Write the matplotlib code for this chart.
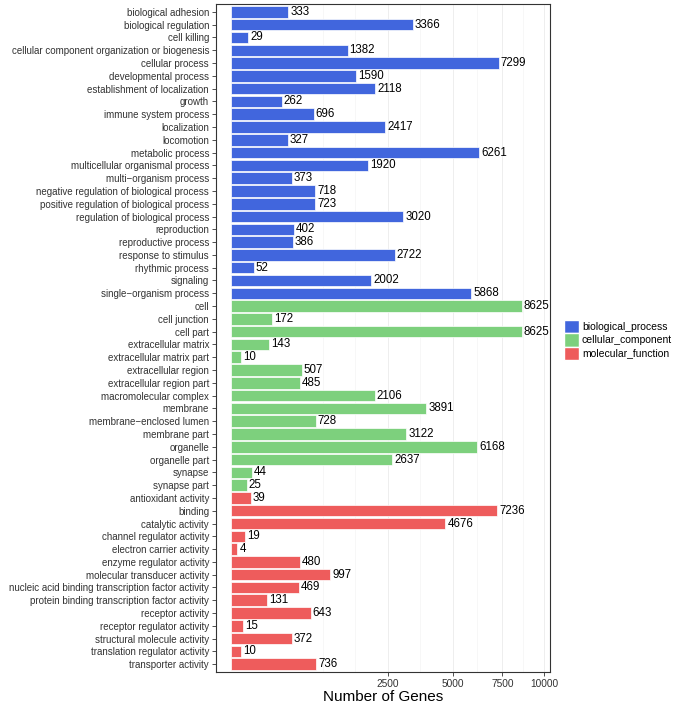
import numpy as np
import matplotlib
matplotlib.use('Agg')
import matplotlib.pyplot as plt
from matplotlib.patches import Patch

plt.rcParams['font.family'] = ['Liberation Sans', 'DejaVu Sans']

# GO terms per ontology, top to bottom
bp_terms = ['biological adhesion', 'biological regulation', 'cell killing',
            'cellular component organization or biogenesis', 'cellular process',
            'developmental process', 'establishment of localization', 'growth',
            'immune system process', 'localization', 'locomotion', 'metabolic process',
            'multicellular organismal process', 'multi\u2212organism process',
            'negative regulation of biological process',
            'positive regulation of biological process',
            'regulation of biological process', 'reproduction', 'reproductive process',
            'response to stimulus', 'rhythmic process', 'signaling',
            'single\u2212organism process']
bp_counts = [333, 3366, 29, 1382, 7299, 1590, 2118, 262, 696, 2417, 327, 6261,
             1920, 373, 718, 723, 3020, 402, 386, 2722, 52, 2002, 5868]

cc_terms = ['cell', 'cell junction', 'cell part', 'extracellular matrix',
            'extracellular matrix part', 'extracellular region',
            'extracellular region part', 'macromolecular complex', 'membrane',
            'membrane\u2212enclosed lumen', 'membrane part', 'organelle',
            'organelle part', 'synapse', 'synapse part']
cc_counts = [8625, 172, 8625, 143, 10, 507, 485, 2106, 3891, 728, 3122, 6168,
             2637, 44, 25]

mf_terms = ['antioxidant activity', 'binding', 'catalytic activity',
            'channel regulator activity', 'electron carrier activity',
            'enzyme regulator activity', 'molecular transducer activity',
            'nucleic acid binding transcription factor activity',
            'protein binding transcription factor activity', 'receptor activity',
            'receptor regulator activity', 'structural molecule activity',
            'translation regulator activity', 'transporter activity']
mf_counts = [39, 7236, 4676, 19, 4, 480, 997, 469, 131, 643, 15, 372, 10, 736]

groups = ['biological_process', 'cellular_component', 'molecular_function']
colors = ['#4166dd', '#7dd07d', '#ee5c5c']
x_ticks = [2500, 5000, 7500, 10000]

terms = bp_terms + cc_terms + mf_terms
counts = bp_counts + cc_counts + mf_counts
cols = ([colors[0]] * len(bp_terms) + [colors[1]] * len(cc_terms)
        + [colors[2]] * len(mf_terms))

fig = plt.figure(figsize=(6.75, 7.05), dpi=100)
ax = fig.add_axes([0.32, 0.047, 0.495, 0.947])

# square-root x axis
fwd = lambda v: np.sign(v) * np.sqrt(np.abs(v))
inv = lambda v: np.sign(v) * v ** 2
ax.set_xscale('function', functions=(fwd, inv))

y = np.arange(len(terms))
ax.barh(y, counts, height=0.9, color=cols, edgecolor='white', linewidth=0.5, zorder=3)
for yi, c in zip(y, counts):
    ax.annotate(str(c), (c, yi), xytext=(1.5, 0), textcoords='offset points',
                va='center', ha='left', fontsize=8.3, color='black', zorder=4)

ax.set_xlim(-23.5, 10380)
ax.set_ylim(len(terms) - 0.4, -0.6)
ax.set_yticks(y)
ax.set_yticklabels(terms, fontsize=7.0, color='#333333')
ax.set_xticks(x_ticks)
ax.set_xticklabels([str(t) for t in x_ticks], fontsize=7.3, color='#333333')
minor = [858, 1569] + [inv((fwd(a) + fwd(b)) / 2) for a, b in zip(x_ticks[:-1], x_ticks[1:])]
ax.set_xticks(minor, minor=True)
ax.tick_params(axis='x', which='minor', length=0)
ax.tick_params(axis='both', which='major', length=3, width=0.6, color='#333333', pad=2)
ax.grid(axis='x', which='major', color='#ebebeb', linewidth=0.6, zorder=0)
ax.grid(axis='x', which='minor', color='#f2f2f2', linewidth=0.4, zorder=0)
for s in ax.spines.values():
    s.set_color('#333333')
    s.set_linewidth(0.8)
ax.set_xlabel('Number of Genes', fontsize=11, labelpad=1)

handles = [Patch(facecolor=c, edgecolor='white') for c in colors]
fig.legend(handles, groups, loc='center left', bbox_to_anchor=(0.828, 0.518),
           frameon=False, fontsize=7.5, handlelength=1.4, handleheight=1.6,
           handletextpad=0.3, labelspacing=0.0, borderpad=0)

fig.savefig('out.png', dpi=100)
